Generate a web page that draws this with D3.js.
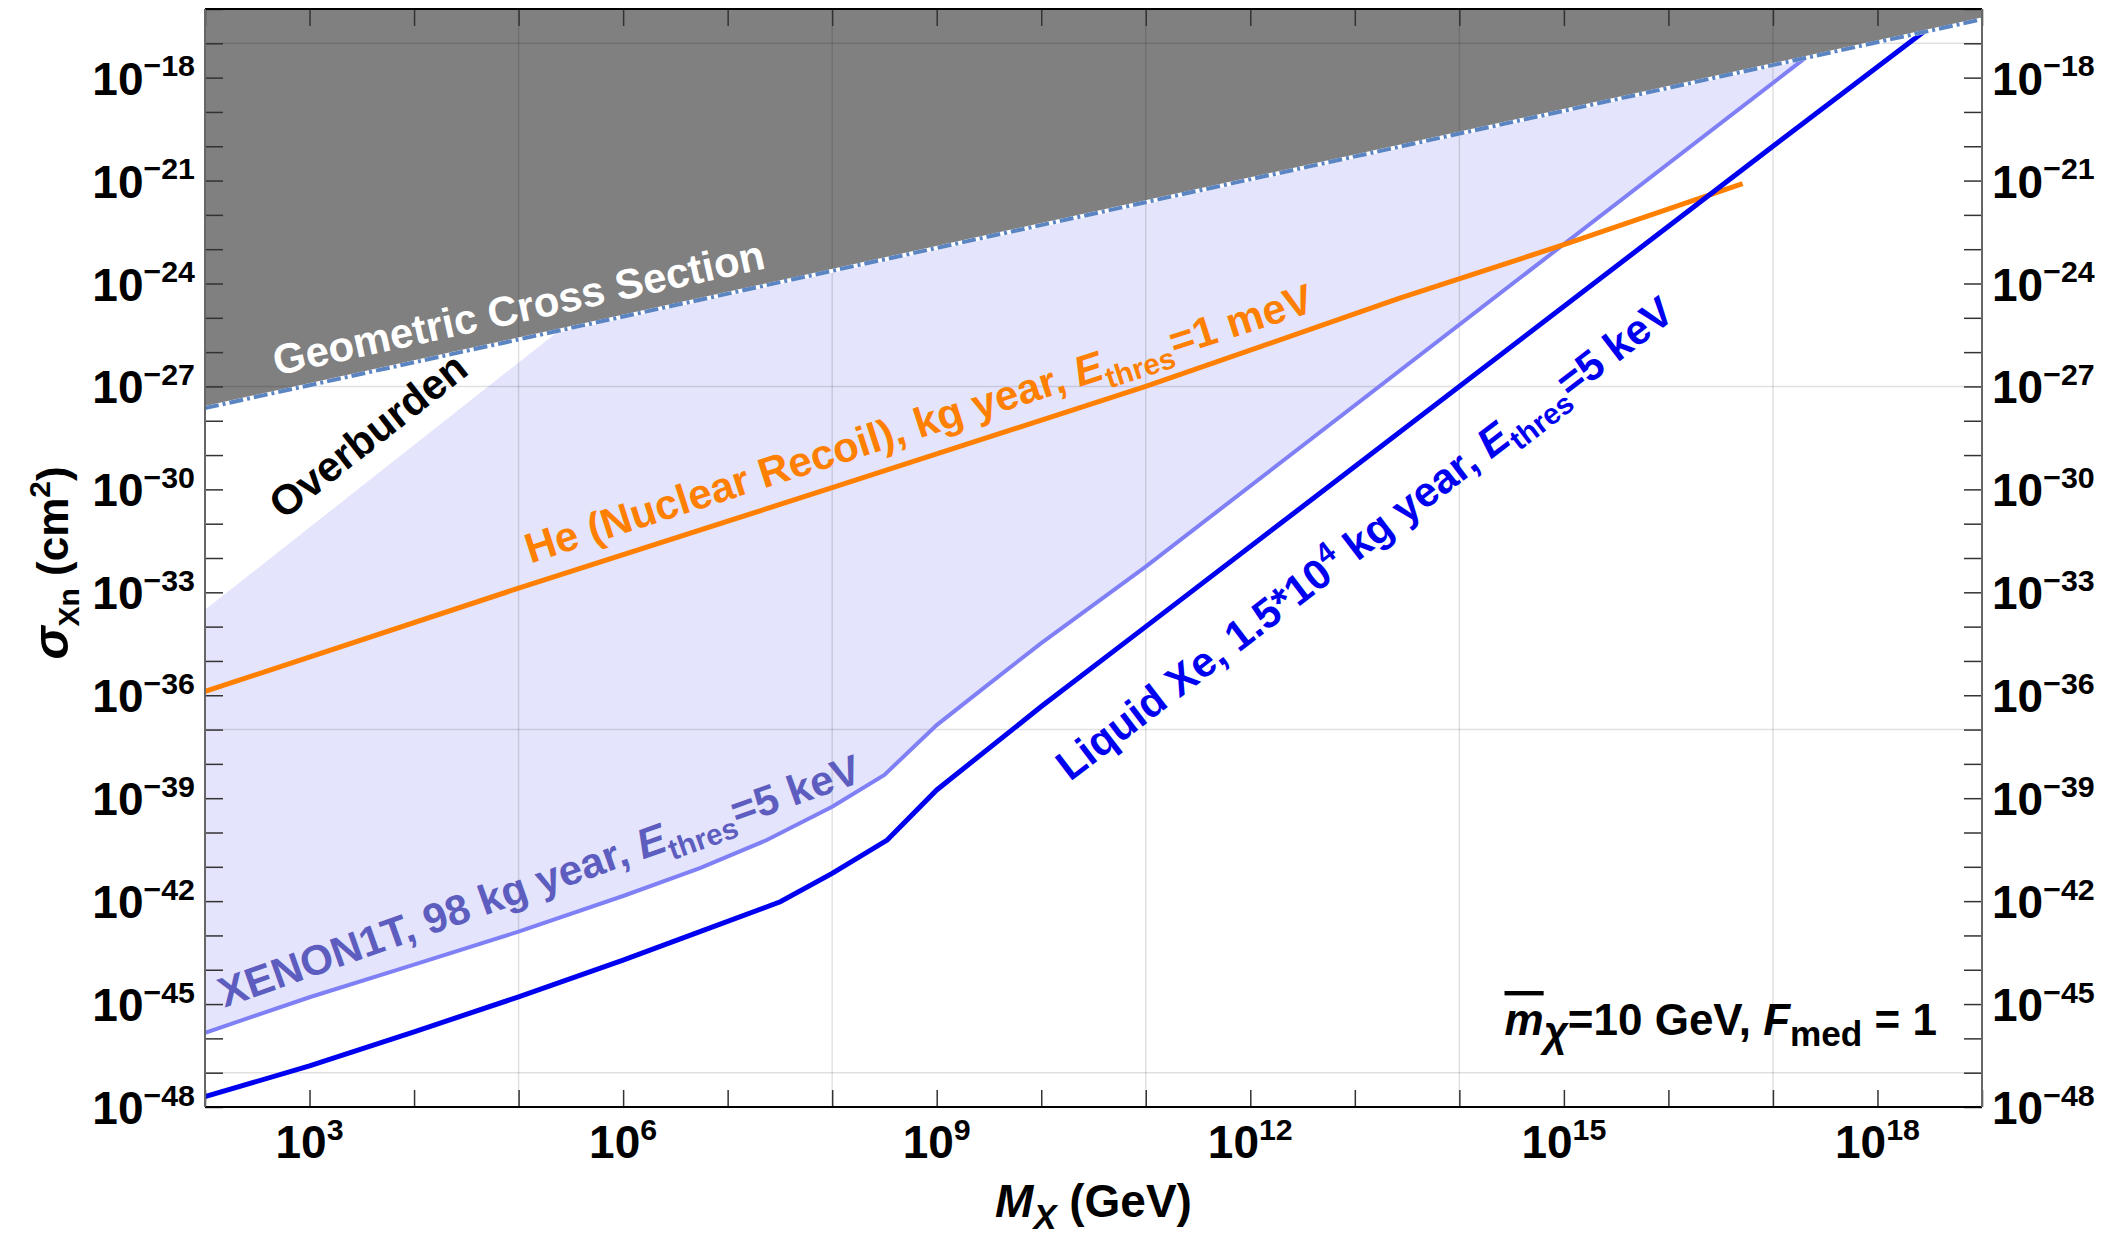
<!DOCTYPE html>
<html lang="en">
<head>
<meta charset="utf-8">
<title>Cross section vs mass</title>
<script src="https://d3js.org/d3.v7.min.js"></script>
<style>
  body { margin: 0; background: #fff; }
  svg text { font-family: "Liberation Sans", Arial, sans-serif; font-weight: bold; }
  .grid line { stroke: #000; stroke-opacity: 0.12; stroke-width: 1.5; }
  .ticks line { stroke: #333; stroke-width: 1.5; }
  .ticks path { display: none; }
</style>
</head>
<body>
<div id="chart"></div>
<script>
// masses in GeV, cross sections in cm^2
const geoMass  = [1e2, 1e11, 1e19];
const geoSigma = [2.34e-28, 2.34e-22, 5.0e-17];

const overMass  = [1e2, 2.45e5];
const overSigma = [3.09e-34, 4.27e-26];

const xenonMass  = [1e2, 1e3, 1e4, 1e5, 1e6, 5.43e6, 2.37e7, 1e8, 3.16e8, 1e9, 2.93e9, 1e10, 1e11, 2.04e17];
const xenonSigma = [1.45e-46, 1.58e-45, 1.41e-44, 1.29e-43, 1.41e-42, 9.12e-42, 6.03e-41, 5.62e-40, 4.79e-39, 1.35e-37, 1.78e-36, 3.31e-35, 5.62e-33, 3.75e-18];

const lxeMass  = [1e2, 1e3, 1e4, 1e5, 1e6, 5.43e6, 3.19e7, 1e8, 3.36e8, 1e9, 1e10, 1e11, 1e17, 2.75e18];
const lxeSigma = [2.0e-48, 1.58e-47, 1.55e-46, 1.62e-45, 1.91e-44, 1.29e-43, 9.55e-43, 6.46e-42, 6.03e-41, 1.74e-39, 4.68e-37, 1e-34, 1e-20, 2.14e-17];

const heMass  = [1e2, 1e5, 1e8, 1e11, 2.69e13, 1e15, 5.13e16];
const heSigma = [1.29e-36, 1.32e-33, 1.12e-30, 1.0e-27, 3.72e-25, 1.35e-23, 8.13e-22];

// axes
const xTickExp   = [2, 3, 4, 5, 6, 7, 8, 9, 10, 11, 12, 13, 14, 15, 16, 17, 18, 19];
const xLabelExp  = [3, 6, 9, 12, 15, 18];
const yTickExp   = [-48, -47, -46, -45, -44, -43, -42, -41, -40, -39, -38, -37, -36, -35, -34, -33, -32, -31, -30, -29, -28, -27, -26, -25, -24, -23, -22, -21, -20, -19, -18, -17, -16];
const yLabelExp  = [-48, -45, -42, -39, -36, -33, -30, -27, -24, -21, -18];
const gridMass   = [1e5, 1e8, 1e11, 1e14, 1e17];
const gridSigma  = [1e-47, 1e-37, 1e-27, 1e-17];

const W = 2119, H = 1239;
const margin = {top: 9, right: 137, bottom: 132, left: 205};
const fs = 46;
const lfs = 42;

const x = d3.scaleLog().domain([1e2, 1e19]).range([margin.left, W - margin.right]);
const y = d3.scaleLog().domain([1e-48, 1e-16]).range([H - margin.bottom, margin.top]);

const svg = d3.select("#chart").append("svg")
    .attr("width", W).attr("height", H);

svg.append("clipPath").attr("id", "plotclip")
  .append("rect")
    .attr("x", margin.left).attr("y", margin.top)
    .attr("width", W - margin.left - margin.right)
    .attr("height", H - margin.top - margin.bottom);

const plot = svg.append("g").attr("clip-path", "url(#plotclip)");

const zip = (a, b) => a.map((v, i) => [v, b[i]]);
const line = d3.line().x(d => x(d[0])).y(d => y(d[1]));

const geo = zip(geoMass, geoSigma);
const over = zip(overMass, overSigma);
const xenon = zip(xenonMass, xenonSigma);
const lxe = zip(lxeMass, lxeSigma);
const he = zip(heMass, heSigma);

// geometric cross section region (dark grey)
const grey = geo.concat([[1e19, 1e-16], [1e2, 1e-16]]);
plot.append("path")
    .attr("d", line(grey) + "Z")
    .attr("fill", "#808080");

// XENON1T excluded region, bounded by overburden and geometric line
const excl = xenon.concat(over.slice().reverse());
plot.append("path")
    .attr("d", line(excl) + "Z")
    .attr("fill", "#e4e4fc");

// grid
const grid = plot.append("g").attr("class", "grid");
grid.selectAll(".gx").data(gridMass).join("line")
    .attr("x1", d => x(d)).attr("x2", d => x(d))
    .attr("y1", margin.top).attr("y2", H - margin.bottom);
grid.selectAll(".gy").data(gridSigma).join("line")
    .attr("y1", d => y(d)).attr("y2", d => y(d))
    .attr("x1", margin.left).attr("x2", W - margin.right);

// curves
plot.append("path").datum(xenon)
    .attr("d", line).attr("fill", "none")
    .attr("stroke", "#8080f6").attr("stroke-width", 4);

plot.append("path").datum(he)
    .attr("d", line).attr("fill", "none")
    .attr("stroke", "#ff8000").attr("stroke-width", 5);

plot.append("path").datum(lxe)
    .attr("d", line).attr("fill", "none")
    .attr("stroke", "#0000f0").attr("stroke-width", 5);

plot.append("path").datum(geo)
    .attr("d", line).attr("fill", "none")
    .attr("stroke", "#fff").attr("stroke-width", 4);
plot.append("path").datum(geo)
    .attr("d", line).attr("fill", "none")
    .attr("stroke", "#5b84c2").attr("stroke-width", 4)
    .attr("stroke-dasharray", "14,4,3,4");

// rich text helper: parts with sub / sup / italic
function rich(sel, parts, size) {
    let shift = 0;
    parts.forEach(p => {
        const target = p.sub ? size * 0.25 : p.sup ? -size * 0.4 : 0;
        const ts = sel.append("tspan").attr("dy", target - shift).text(p.t);
        if (p.sub || p.sup) ts.attr("font-size", size * (p.k || 0.7));
        if (p.size) ts.attr("font-size", p.size);
        if (p.it) ts.attr("font-style", "italic");
        if (p.over) ts.attr("text-decoration", "overline");
        shift = target;
    });
}

// curve labels: anchor = baseline centre in data units, angle from a pair of curve points
const angleOf = (a, b) => Math.atan2(y(b[1]) - y(a[1]), x(b[0]) - x(a[0])) * 180 / Math.PI;
const labels = [
  {m: 1.07e5, s: 7.6e-26, ang: angleOf(geo[0], geo[2]), color: "#fff",
   parts: [{t: "Geometric Cross Section"}]},
  {m: 4.42e3, s: 1.74e-29, ang: angleOf(over[0], over[1]), color: "#000",
   parts: [{t: "Overburden"}]},
  {m: 7.4e8, s: 3.3e-29, ang: angleOf(he[1], he[3]), color: "#ff8000",
   parts: [{t: "He (Nuclear Recoil), kg year, "}, {t: "E", it: true}, {t: "thres", sub: true}, {t: "=1 meV"}]},
  {m: 1.75e5, s: 1.55e-42, ang: angleOf(xenon[1], xenon[7]) + 0.5, color: "#5d5dbf",
   parts: [{t: "XENON1T, 98 kg year, "}, {t: "E", it: true}, {t: "thres", sub: true}, {t: "=5 keV"}]},
  {m: 1.5e13, s: 1.74e-32, ang: angleOf(lxe[11], lxe[12]), color: "#0000f0",
   parts: [{t: "Liquid Xe, 1.5*10"}, {t: "4", sup: true}, {t: " kg year, "}, {t: "E", it: true}, {t: "thres", sub: true}, {t: "=5 keV"}]}
];
labels.forEach(l => {
    const px = x(l.m), py = y(l.s);
    const t = svg.append("text")
        .attr("transform", `translate(${px},${py}) rotate(${l.ang})`)
        .attr("text-anchor", "middle")
        .attr("font-size", lfs)
        .attr("fill", l.color);
    rich(t, l.parts, lfs);
});

// axes ticks (inward on all sides)
const xt = xTickExp.map(e => Math.pow(10, e));
const yt = yTickExp.map(e => Math.pow(10, e));
svg.append("g").attr("class", "ticks")
    .attr("transform", `translate(0,${H - margin.bottom})`)
    .call(d3.axisBottom(x).tickValues(xt).tickSize(-17).tickFormat(""));
svg.append("g").attr("class", "ticks")
    .attr("transform", `translate(0,${margin.top})`)
    .call(d3.axisTop(x).tickValues(xt).tickSize(-17).tickFormat(""));
svg.append("g").attr("class", "ticks")
    .attr("transform", `translate(${margin.left},0)`)
    .call(d3.axisLeft(y).tickValues(yt).tickSize(-18).tickFormat(""));
svg.append("g").attr("class", "ticks")
    .attr("transform", `translate(${W - margin.right},0)`)
    .call(d3.axisRight(y).tickValues(yt).tickSize(-18).tickFormat(""));

// frame
const x0 = margin.left, x1 = W - margin.right, y0 = margin.top, y1 = H - margin.bottom;
svg.append("line").attr("x1", x0).attr("x2", x1).attr("y1", y0).attr("y2", y0).attr("stroke", "#000").attr("stroke-width", 2);
svg.append("line").attr("x1", x0).attr("x2", x1).attr("y1", y1).attr("y2", y1).attr("stroke", "#000").attr("stroke-width", 2);
svg.append("line").attr("x1", x0).attr("x2", x0).attr("y1", y0).attr("y2", y1).attr("stroke", "#666").attr("stroke-width", 2);
svg.append("line").attr("x1", x1).attr("x2", x1).attr("y1", y0).attr("y2", y1).attr("stroke", "#666").attr("stroke-width", 2);

// tick labels
const powParts = e => [{t: "10"}, {t: (e < 0 ? "\u2212" + (-e) : "" + e), sup: true, k: 0.66}];
yLabelExp.forEach(e => {
    const ty = y(Math.pow(10, e)) + 17;
    rich(svg.append("text").attr("x", x0 - 10).attr("y", ty)
        .attr("text-anchor", "end").attr("font-size", fs), powParts(e), fs);
    rich(svg.append("text").attr("x", x1 + 10).attr("y", ty)
        .attr("text-anchor", "start").attr("font-size", fs), powParts(e), fs);
});
xLabelExp.forEach(e => {
    rich(svg.append("text").attr("x", x(Math.pow(10, e))).attr("y", y1 + 51)
        .attr("text-anchor", "middle").attr("font-size", fs), powParts(e), fs);
});

// axis titles
rich(svg.append("text")
        .attr("x", (x0 + x1) / 2).attr("y", H - 22)
        .attr("text-anchor", "middle").attr("font-size", 46),
    [{t: "M", it: true}, {t: "X", it: true, sub: true, k: 0.75}, {t: " (GeV)"}], 46);

rich(svg.append("text")
        .attr("transform", `translate(68,${(y0 + y1) / 2 + 5}) rotate(-90)`)
        .attr("text-anchor", "middle").attr("font-size", 44),
    [{t: "\u03c3", it: true, size: 50}, {t: "Xn", sub: true, k: 0.68}, {t: " (cm"}, {t: "2", sup: true, k: 0.68}, {t: ")"}], 44);

// annotation
rich(svg.append("text")
        .attr("x", x1 - 45).attr("y", 1035)
        .attr("text-anchor", "end").attr("font-size", 44),
    [{t: "m", it: true, over: true}, {t: "\u03c7", it: true, sub: true, k: 0.95}, {t: "=10 GeV, "}, {t: "F", it: true}, {t: "med", sub: true, k: 0.8}, {t: " = 1"}], 44);
</script>
</body>
</html>
